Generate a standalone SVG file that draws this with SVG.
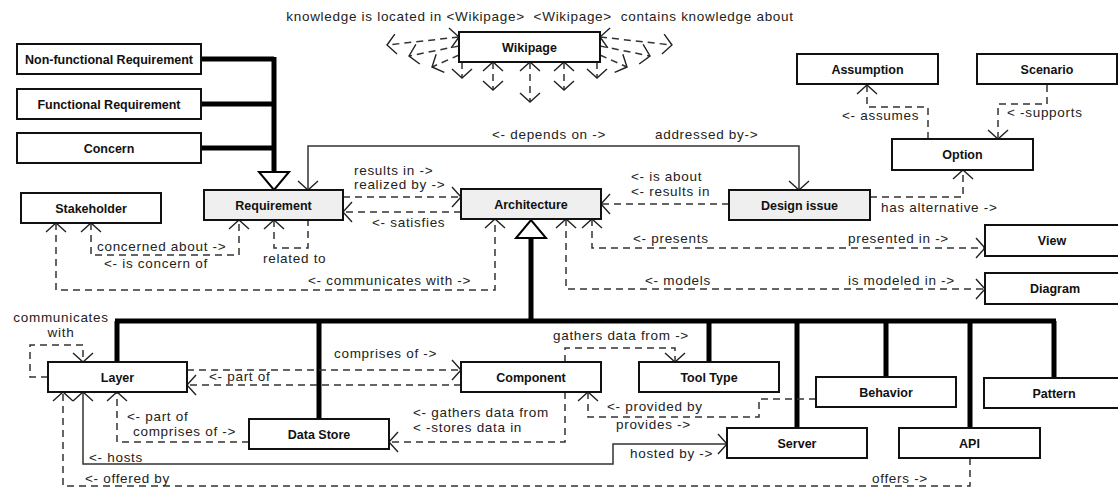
<svg xmlns="http://www.w3.org/2000/svg" width="1118" height="489" viewBox="0 0 1118 489">
<defs>
  <marker id="arr" viewBox="-11 -12 13 24" refX="0" refY="0" markerWidth="13" markerHeight="24" markerUnits="userSpaceOnUse" orient="auto-start-reverse">
    <path d="M-9,-10 L0,0 L-9,10" fill="none" stroke="#222" stroke-width="1.4"/>
  </marker>
</defs>
<style>
  .box{fill:#fff;stroke:#111;stroke-width:2}
  .gray{fill:#efefef}
  .name{font-family:"Liberation Sans",Arial,sans-serif;font-size:12.5px;font-weight:bold;fill:#111;text-anchor:middle}
  .lbl{font-family:"Liberation Sans",Arial,sans-serif;font-size:13.5px;letter-spacing:0.7px;fill:#222}
  .dash{fill:none;stroke:#333;stroke-width:1.5;stroke-dasharray:7 5}
  .solid{fill:none;stroke:#333;stroke-width:1.5}
  .thick{fill:none;stroke:#000;stroke-width:5}
  .tri{fill:#fff;stroke:#000;stroke-width:2}
</style>
<rect width="1118" height="489" fill="#fff"/>

<!-- relations -->
<g id="connectors">
  <!-- Wikipage fan -->
  <path class="dash" d="M459,37 L387,45" marker-start="url(#arr)" marker-end="url(#arr)"/>
  <path class="dash" d="M459,46 L409,56" marker-end="url(#arr)"/>
  <path class="dash" d="M459,55 L432,67" marker-end="url(#arr)"/>
  <path class="dash" d="M462,62 V78" marker-end="url(#arr)"/>
  <path class="dash" d="M493,62 V90" marker-start="url(#arr)" marker-end="url(#arr)"/>
  <path class="dash" d="M530,62 V102" marker-start="url(#arr)" marker-end="url(#arr)"/>
  <path class="dash" d="M564,62 V90" marker-start="url(#arr)" marker-end="url(#arr)"/>
  <path class="dash" d="M597,62 V78" marker-end="url(#arr)"/>
  <path class="dash" d="M600,37 L672,45" marker-start="url(#arr)" marker-end="url(#arr)"/>
  <path class="dash" d="M600,46 L650,56" marker-end="url(#arr)"/>
  <path class="dash" d="M600,55 L627,67" marker-end="url(#arr)"/>

  <!-- requirement specialisations -->
  <path class="thick" d="M200,59 H274 M200,104 H274 M200,148 H274 M274,57 V172"/>
  <polygon class="tri" points="259,172 289,172 274,190"/>

  <!-- architecture specialisations -->
  <path class="thick" d="M531,237 V321 M115,321 H1056 M117,321 V362 M319,321 V419 M709,321 V362 M797,321 V428 M886,321 V377 M970,321 V428 M1054,321 V378"/>
  <polygon class="tri" points="516,238 546,238 531,220"/>

  <!-- upper relations -->
  <path class="solid" d="M308,190 V146 H799 V190" marker-start="url(#arr)" marker-end="url(#arr)"/>
  <path class="dash" d="M343,197 H461" marker-end="url(#arr)"/>
  <path class="dash" d="M461,212 H343" marker-end="url(#arr)"/>
  <path class="dash" d="M729,204 H601" marker-end="url(#arr)"/>
  <path class="dash" d="M870,197 H963 V170" marker-end="url(#arr)"/>
  <path class="dash" d="M928,139 V107 H867 V85" marker-end="url(#arr)"/>
  <path class="dash" d="M1047,85 V104 H998 V139" marker-end="url(#arr)"/>
  <path class="dash" d="M592,219 V248 H985" marker-start="url(#arr)" marker-end="url(#arr)"/>
  <path class="dash" d="M566,219 V289 H985" marker-start="url(#arr)" marker-end="url(#arr)"/>
  <path class="dash" d="M56,223 V290 H495 V219" marker-start="url(#arr)" marker-end="url(#arr)"/>
  <path class="dash" d="M91,223 V255 H239 V220" marker-start="url(#arr)" marker-end="url(#arr)"/>
  <path class="dash" d="M274,220 V248 H308 V220" marker-start="url(#arr)"/>

  <!-- lower relations -->
  <path class="dash" d="M48,377 H30 V345 H83 V362" marker-end="url(#arr)"/>
  <path class="dash" d="M187,370 H461" marker-end="url(#arr)"/>
  <path class="dash" d="M461,385 H187" marker-end="url(#arr)"/>
  <path class="dash" d="M249,442 H117 V392" marker-end="url(#arr)"/>
  <path class="dash" d="M565,392 V442 H389" marker-end="url(#arr)"/>
  <path class="dash" d="M565,362 V348 H675 V362" marker-end="url(#arr)"/>
  <path class="dash" d="M816,399 H759 V417 H588 V392" marker-end="url(#arr)"/>
  <path class="solid" d="M83,392 V464 H613 V444 H727" marker-start="url(#arr)" marker-end="url(#arr)"/>
  <path class="dash" d="M970,458 V486 H63 V392" marker-end="url(#arr)"/>
</g>

<!-- relation labels -->
<g id="labels">
  <text class="lbl" x="540" y="21" text-anchor="middle" xml:space="preserve">knowledge is located in &lt;Wikipage&gt;  &lt;Wikipage&gt;  contains knowledge about</text>
  <text class="lbl" x="492" y="139">&lt;- depends on -&gt;</text>
  <text class="lbl" x="655" y="139">addressed by-&gt;</text>
  <text class="lbl" x="354" y="175">results in -&gt;</text>
  <text class="lbl" x="354" y="189">realized by -&gt;</text>
  <text class="lbl" x="372" y="227">&lt;- satisfies</text>
  <text class="lbl" x="631" y="181">&lt;- is about</text>
  <text class="lbl" x="631" y="196">&lt;- results in</text>
  <text class="lbl" x="881" y="212">has alternative -&gt;</text>
  <text class="lbl" x="842" y="120">&lt;- assumes</text>
  <text class="lbl" x="1007" y="117">&lt; -supports</text>
  <text class="lbl" x="633" y="243">&lt;- presents</text>
  <text class="lbl" x="848" y="243">presented in -&gt;</text>
  <text class="lbl" x="645" y="285">&lt;- models</text>
  <text class="lbl" x="848" y="285">is modeled in -&gt;</text>
  <text class="lbl" x="97" y="251">concerned about -&gt;</text>
  <text class="lbl" x="104" y="268">&lt;- is concern of</text>
  <text class="lbl" x="263" y="263">related to</text>
  <text class="lbl" x="308" y="285">&lt;- communicates with -&gt;</text>
  <text class="lbl" x="61" y="322" text-anchor="middle">communicates</text>
  <text class="lbl" x="61" y="337" text-anchor="middle">with</text>
  <text class="lbl" x="334" y="358">comprises of -&gt;</text>
  <text class="lbl" x="209" y="381">&lt;- part of</text>
  <text class="lbl" x="127" y="421">&lt;- part of</text>
  <text class="lbl" x="133" y="436">comprises of -&gt;</text>
  <text class="lbl" x="553" y="340">gathers data from -&gt;</text>
  <text class="lbl" x="413" y="417">&lt;- gathers data from</text>
  <text class="lbl" x="413" y="432">&lt; -stores data in</text>
  <text class="lbl" x="607" y="411">&lt;- provided by</text>
  <text class="lbl" x="616" y="429">provides -&gt;</text>
  <text class="lbl" x="89" y="462">&lt;- hosts</text>
  <text class="lbl" x="630" y="458">hosted by -&gt;</text>
  <text class="lbl" x="85" y="483">&lt;- offered by</text>
  <text class="lbl" x="872" y="483">offers -&gt;</text>
</g>

<!-- concepts -->
<g id="wikipage"><rect class="box" x="459" y="32" width="141" height="30"/><text class="name" x="529.5" y="51.5">Wikipage</text></g>
<g id="nonfunctional-requirement"><rect class="box" x="17" y="44" width="184" height="30"/><text class="name" x="109" y="63.5">Non-functional Requirement</text></g>
<g id="functional-requirement"><rect class="box" x="17" y="89" width="184" height="30"/><text class="name" x="109" y="108.5">Functional Requirement</text></g>
<g id="concern"><rect class="box" x="17" y="133" width="184" height="30"/><text class="name" x="109" y="152.5">Concern</text></g>
<g id="requirement"><rect class="box gray" x="204" y="190" width="139" height="30"/><text class="name" x="273.5" y="209.5">Requirement</text></g>
<g id="stakeholder"><rect class="box" x="21" y="193" width="140" height="30"/><text class="name" x="91" y="212.5">Stakeholder</text></g>
<g id="architecture"><rect class="box gray" x="461" y="189" width="140" height="30"/><text class="name" x="531" y="208.5">Architecture</text></g>
<g id="design-issue"><rect class="box gray" x="729" y="190" width="141" height="30"/><text class="name" x="799.5" y="209.5">Design issue</text></g>
<g id="option"><rect class="box" x="892" y="139" width="141" height="31"/><text class="name" x="962.5" y="159">Option</text></g>
<g id="assumption"><rect class="box" x="797" y="54" width="141" height="30"/><text class="name" x="867.5" y="73.5">Assumption</text></g>
<g id="scenario"><rect class="box" x="977" y="54" width="140" height="30"/><text class="name" x="1047" y="73.5">Scenario</text></g>
<g id="view"><rect class="box" x="985" y="225" width="140" height="31"/><text class="name" x="1052" y="245">View</text></g>
<g id="diagram"><rect class="box" x="985" y="273" width="140" height="31"/><text class="name" x="1055" y="293">Diagram</text></g>
<g id="layer"><rect class="box" x="48" y="362" width="139" height="30"/><text class="name" x="117.5" y="381.5">Layer</text></g>
<g id="component"><rect class="box" x="461" y="362" width="140" height="30"/><text class="name" x="531" y="381.5">Component</text></g>
<g id="tool-type"><rect class="box" x="639" y="362" width="140" height="30"/><text class="name" x="709" y="381.5">Tool Type</text></g>
<g id="data-store"><rect class="box" x="249" y="419" width="140" height="30"/><text class="name" x="319" y="438.5">Data Store</text></g>
<g id="behavior"><rect class="box" x="816" y="377" width="140" height="30"/><text class="name" x="886" y="396.5">Behavior</text></g>
<g id="pattern"><rect class="box" x="984" y="378" width="140" height="30"/><text class="name" x="1054" y="397.5">Pattern</text></g>
<g id="server"><rect class="box" x="727" y="428" width="140" height="30"/><text class="name" x="797" y="447.5">Server</text></g>
<g id="api"><rect class="box" x="899" y="428" width="141" height="30"/><text class="name" x="969.5" y="447.5">API</text></g>
</svg>
